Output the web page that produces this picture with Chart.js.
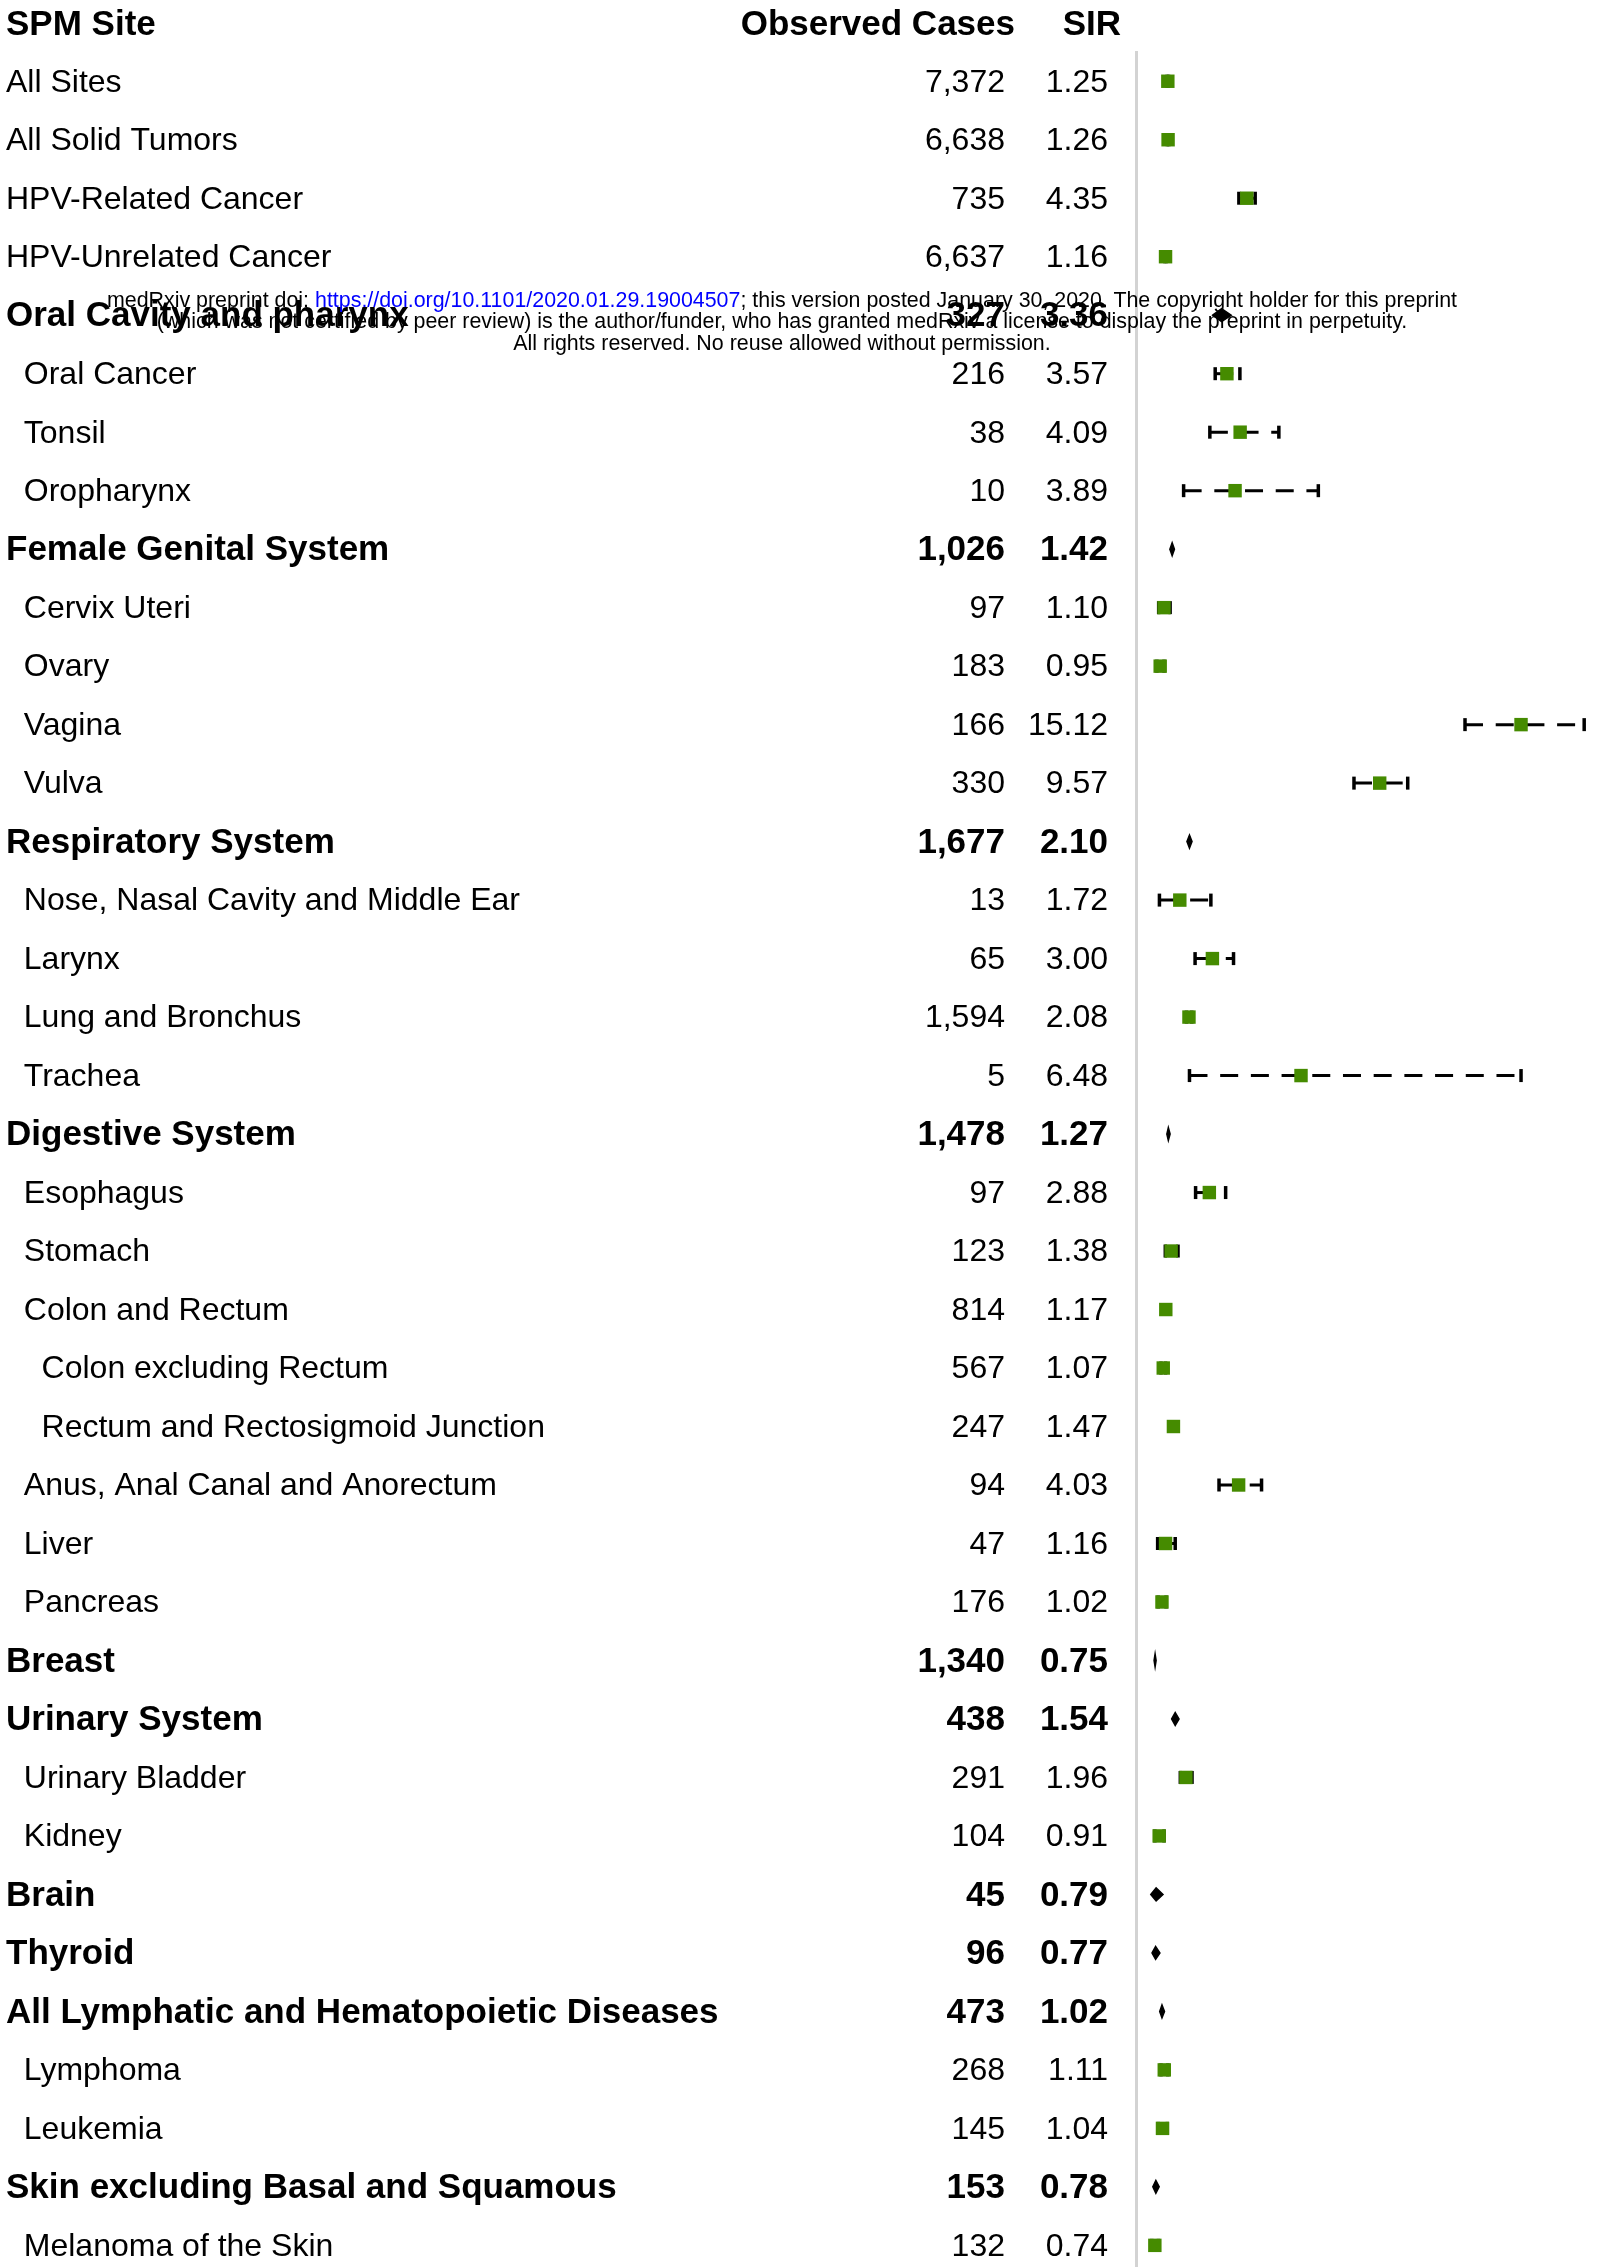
<!DOCTYPE html>
<html>
<head>
<meta charset="utf-8">
<title>SPM SIR forest plot</title>
<script src="https://cdn.jsdelivr.net/npm/chart.js@4/dist/chart.umd.min.js"></script>
<style>
  html, body { margin: 0; padding: 0; background: #fff; overflow: hidden; }
  #wrap { position: relative; width: 1615px; height: 2267px; }
  #wm {
    position: absolute; left: 0; top: 289.7px; width: 1564px;
    text-align: center; white-space: nowrap; z-index: 2;
    font: 21.4px/21.5px "Liberation Sans", Arial, Helvetica, sans-serif; color: #000;
  }
  #wm .lnk { color: #0000ff; }
</style>
</head>
<body>
<div id="wrap">
  <canvas id="c" width="1615" height="2267"></canvas>
  <div id="wm">medRxiv preprint doi: <span class="lnk">https://doi.org/10.1101/2020.01.29.19004507</span>; this version posted January 30, 2020. The copyright holder for this preprint<br>(which was not certified by peer review) is the author/funder, who has granted medRxiv a license to display the preprint in perpetuity.<br>All rights reserved. No reuse allowed without permission.</div>
</div>
<script>
// ---------------- data ----------------
const headers = ["SPM Site", "Observed Cases", "SIR"];

const sites = [
  "All Sites", "All Solid Tumors", "HPV-Related Cancer", "HPV-Unrelated Cancer",
  "Oral Cavity and pharynx", "Oral Cancer", "Tonsil", "Oropharynx",
  "Female Genital System", "Cervix Uteri", "Ovary", "Vagina", "Vulva",
  "Respiratory System", "Nose, Nasal Cavity and Middle Ear", "Larynx", "Lung and Bronchus", "Trachea",
  "Digestive System", "Esophagus", "Stomach", "Colon and Rectum", "Colon excluding Rectum",
  "Rectum and Rectosigmoid Junction", "Anus, Anal Canal and Anorectum", "Liver", "Pancreas",
  "Breast", "Urinary System", "Urinary Bladder", "Kidney",
  "Brain", "Thyroid", "All Lymphatic and Hematopoietic Diseases", "Lymphoma", "Leukemia",
  "Skin excluding Basal and Squamous", "Melanoma of the Skin"
];

const indentLevel = [0,0,0,0, 0,1,1,1, 0,1,1,1,1, 0,1,1,1,1, 0,1,1,1,2,2,1,1,1, 0,0,1,1, 0,0,0,1,1, 0,1];

const isGroup = [0,0,0,0, 1,0,0,0, 1,0,0,0,0, 1,0,0,0,0, 1,0,0,0,0,0,0,0,0, 1,1,0,0, 1,1,1,0,0, 1,0];

const observed = [7372,6638,735,6637, 327,216,38,10, 1026,97,183,166,330, 1677,13,65,1594,5,
  1478,97,123,814,567,247,94,47,176, 1340,438,291,104, 45,96,473,268,145, 153,132];

const sir = [1.25,1.26,4.35,1.16, 3.36,3.57,4.09,3.89, 1.42,1.10,0.95,15.12,9.57, 2.10,1.72,3.00,2.08,6.48,
  1.27,2.88,1.38,1.17,1.07,1.47,4.03,1.16,1.02, 0.75,1.54,1.96,0.91, 0.79,0.77,1.02,1.11,1.04, 0.78,0.74];

const ciLower = [1.22,1.23,4.04,1.13, 3.01,3.11,2.90,1.87, 1.33,0.89,0.82,12.92,8.56, 2.00,0.92,2.32,1.98,2.10,
  1.21,2.34,1.15,1.09,0.98,1.29,3.26,0.85,0.87, 0.71,1.40,1.74,0.74, 0.58,0.63,0.93,0.98,0.88, 0.66,0.62];

const ciUpper = [1.28,1.29,4.68,1.19, 3.74,4.08,5.61,7.16, 1.51,1.34,1.10,17.60,10.67, 2.20,2.94,3.83,2.19,15.12,
  1.34,3.52,1.65,1.25,1.16,1.66,4.93,1.54,1.18, 0.79,1.69,2.20,1.10, 1.06,0.94,1.12,1.25,1.23, 0.91,0.88];

// ---------------- chart ----------------
const FONT = "'Liberation Sans', Arial, Helvetica, sans-serif";
Chart.defaults.font.family = FONT;
Chart.defaults.color = '#000';

const rows = sites.map((_, i) => i);
const pointRows = rows.filter(i => !isGroup[i]);
const groupRows = rows.filter(i => isGroup[i]);

const GREEN = '#458B00';

const whiskerSets = pointRows.map(i => ({
  type: 'scatter',
  data: [{ x: ciLower[i], y: i }, { x: ciUpper[i], y: i }],
  showLine: true,
  borderColor: '#000',
  borderWidth: 3,
  borderDash: [18, 12.7],
  pointStyle: 'line',
  pointRotation: 90,
  pointRadius: 6.5,
  pointBorderWidth: 3.5,
  pointBorderColor: '#000',
  pointBackgroundColor: '#000',
  clip: false,
  order: 2
}));

const boxSet = {
  type: 'scatter',
  data: pointRows.map(i => ({ x: sir[i], y: i })),
  pointStyle: 'rect',
  pointRadius: 9.5,
  pointBackgroundColor: GREEN,
  pointBorderColor: GREEN,
  pointBorderWidth: 0,
  clip: false,
  order: 1
};

const diamondPlugin = {
  id: 'summaryDiamonds',
  afterDatasetsDraw(chart) {
    const { ctx } = chart;
    const xs = chart.scales.x, ys = chart.scales.y;
    ctx.save();
    ctx.fillStyle = '#000';
    ctx.strokeStyle = '#000';
    ctx.lineWidth = 1.5;
    groupRows.forEach(i => {
      const xl = xs.getPixelForValue(ciLower[i]);
      const xr = xs.getPixelForValue(ciUpper[i]);
      const xc = xs.getPixelForValue(sir[i]);
      const yc = ys.getPixelForValue(i);
      const h = 6.5;
      ctx.beginPath();
      ctx.moveTo(xl, yc);
      ctx.lineTo(xc, yc - h);
      ctx.lineTo(xr, yc);
      ctx.lineTo(xc, yc + h);
      ctx.closePath();
      ctx.fill();
      ctx.stroke();
    });
    ctx.restore();
  }
};

const headerPlugin = {
  id: 'headerRow',
  afterDraw(chart) {
    const { ctx } = chart;
    const sLab = chart.scales.y, sObs = chart.scales.yObs, sSir = chart.scales.ySir;
    ctx.save();
    ctx.font = 'bold 35px ' + FONT;
    ctx.fillStyle = '#000';
    ctx.textBaseline = 'alphabetic';
    ctx.textAlign = 'left';
    ctx.fillText(headers[0], sLab.left, 35);
    ctx.textAlign = 'right';
    ctx.fillText(headers[1], sObs.right - 15, 35);
    ctx.fillText(headers[2], sSir.right - 15, 35);
    ctx.restore();
  }
};

function tickFont(ctx) {
  const i = ctx.index;
  const bold = i !== undefined && isGroup[i];
  return { family: FONT, size: bold ? 35 : 32, weight: bold ? 'bold' : 'normal' };
}

function rowAxis(weight, width, extra) {
  return Object.assign({
    type: 'linear',
    position: 'left',
    reverse: true,
    min: -0.5,
    max: 37.37,
    weight: weight,
    grid: { display: false, drawTicks: false },
    border: { display: false },
    afterBuildTicks: s => { s.ticks = rows.map(v => ({ value: v })); },
    afterFit: s => { s.width = width; s.paddingTop = 0; s.paddingBottom = 0; }
  }, extra);
}

new Chart(document.getElementById('c'), {
  type: 'scatter',
  data: { datasets: [boxSet, ...whiskerSets] },
  options: {
    responsive: false,
    animation: false,
    events: [],
    layout: { autoPadding: false, padding: { left: 6, top: 52, right: 0, bottom: 0 } },
    plugins: { legend: { display: false }, tooltip: { enabled: false } },
    scales: {
      x: { type: 'linear', min: 0, max: 18.81, display: false },
      y: rowAxis(3, 754, {
        ticks: {
          autoSkip: false, color: '#000', padding: 0, crossAlign: 'far', labelOffset: 1.5,
          font: tickFont,
          callback: v => '  '.repeat(indentLevel[Math.round(v)]) + sites[Math.round(v)]
        }
      }),
      yObs: rowAxis(2, 270, {
        ticks: {
          autoSkip: false, color: '#000', padding: 25, labelOffset: 1.5,
          font: tickFont,
          callback: v => observed[Math.round(v)].toLocaleString('en-US')
        }
      }),
      ySir: rowAxis(1, 106, {
        border: { display: true, color: '#d3d3d3', width: 3 },
        ticks: {
          autoSkip: false, color: '#000', padding: 28, labelOffset: 1.5,
          font: tickFont,
          callback: v => sir[Math.round(v)].toFixed(2)
        }
      })
    }
  },
  plugins: [diamondPlugin, headerPlugin]
});
</script>
</body>
</html>
